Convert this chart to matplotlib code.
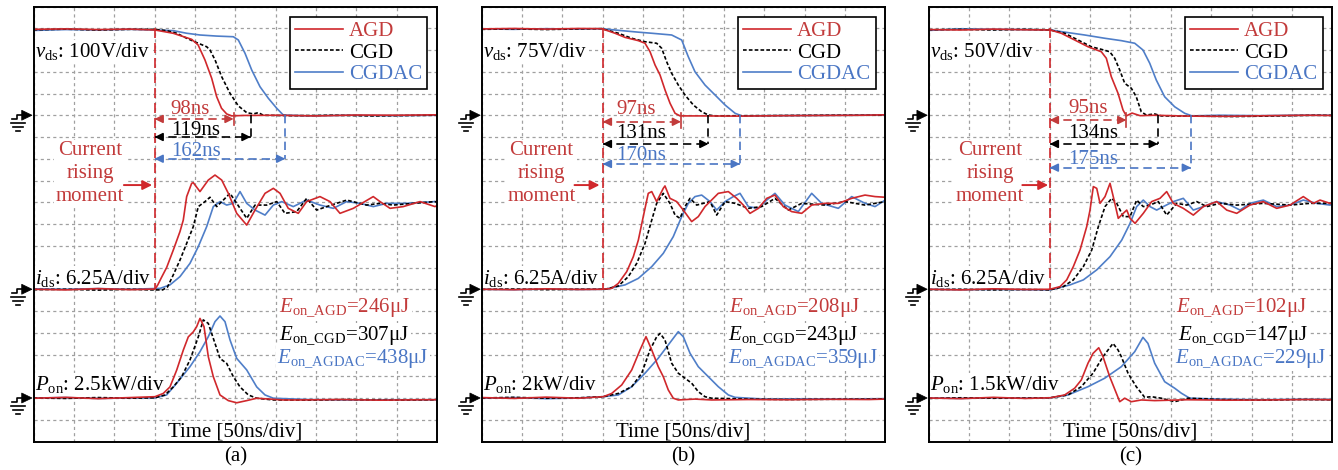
import matplotlib
matplotlib.use('Agg')
import matplotlib.pyplot as plt
from matplotlib.lines import Line2D
from matplotlib.patches import Polygon
from matplotlib.transforms import IdentityTransform

plt.rcParams['font.family'] = ['Liberation Serif', 'DejaVu Serif']
plt.rcParams['mathtext.fontset'] = 'custom'
plt.rcParams['mathtext.rm'] = 'Liberation Serif'
plt.rcParams['mathtext.it'] = 'Liberation Serif:italic'
plt.rcParams['mathtext.bf'] = 'Liberation Serif:bold'
plt.rcParams['font.size'] = 15

# ---------------- data (time in ns, value in screen divisions) ----------------
SERIES = ['AGD', 'CGD', 'CGDAC']
PANEL_LABELS = ['(a)', '(b)', '(c)']
VDS_SCALE = ['100V/div', '75V/div', '50V/div']
IDS_SCALE = ['6.25A/div', '6.25A/div', '6.25A/div']
PON_SCALE = ['2.5kW/div', '2kW/div', '1.5kW/div']
T_RISE = 150
DELAY_AGD = [98, 97, 95]
DELAY_CGD = [119, 131, 134]
DELAY_CGDAC = [162, 170, 175]
EON_AGD = [246, 208, 102]
EON_CGD = [307, 243, 147]
EON_AGDAC = [438, 359, 229]
VDS_ZERO, IDS_ZERO, PON_ZERO = 15, 7, 2
VDS_HIGH = 19

# panel (a)
a_vds_agd_t = [0, 40, 80, 120, 150.5, 173, 196, 204, 212.5, 220.8, 227, 233, 239.4, 245.6, 260, 300, 350, 400, 450, 500]
a_vds_agd_v = [18.95, 18.97, 18.94, 18.96, 18.92, 18.77, 18.49, 18.23, 17.54, 16.70, 15.85, 15.32, 15.06, 14.97, 14.99, 15.0, 14.97, 15.01, 15.0, 15.02]
a_vds_cgd_t = [0, 40, 80, 120, 150.5, 165, 177.4, 189.8, 202.2, 214.6, 218.7, 225, 233.2, 243.5, 253.8, 264.2, 272.4, 278.6, 284.8, 320, 370, 420, 470, 500]
a_vds_cgd_v = [18.93, 18.96, 18.92, 18.95, 18.95, 18.89, 18.77, 18.54, 18.34, 18.15, 18.0, 17.54, 16.77, 16.01, 15.43, 15.12, 15.06, 15.12, 15.0, 14.98, 15.0, 14.97, 14.99, 15.0]
a_vds_cgdac_t = [0, 40, 80, 120, 150.5, 173.2, 189.8, 206.3, 227, 247.6, 253.8, 262.1, 270.4, 280.7, 291, 301.4, 309.5, 340, 390, 440, 500]
a_vds_cgdac_v = [18.9, 18.94, 18.92, 18.95, 18.92, 18.89, 18.77, 18.69, 18.64, 18.61, 18.46, 17.85, 17.08, 16.31, 15.78, 15.32, 15.01, 14.97, 15.0, 14.98, 15.0]

a_ids_agd_t = [0, 40, 80, 120, 150.6, 154, 158, 165, 173.2, 181.5, 185.6, 189.8, 196, 198, 206.3, 216.6, 224.9, 233.2, 241.4, 251.8, 264.2, 274.5, 286.9, 297.2, 305.5, 315.7, 328.1, 338.5, 355, 367.4, 379.8, 396.3, 421, 429.4, 441.8, 458.2, 479, 497.5, 500]
a_ids_agd_v = [7.0, 6.97, 7.03, 6.98, 7.01, 7.2, 7.5, 8.0, 8.80, 9.65, 10.18, 11.26, 11.87, 11.90, 11.49, 12.02, 12.25, 12.02, 11.41, 10.49, 9.95, 10.64, 11.41, 11.64, 11.41, 10.72, 10.49, 11.03, 11.26, 11.03, 10.49, 10.72, 11.26, 11.03, 10.72, 10.80, 11.03, 10.80, 10.85]
a_ids_cgd_t = [0, 40, 80, 120, 144.4, 160, 166, 173.2, 181.5, 189.8, 198, 204.2, 212.5, 218.7, 227, 235.2, 243.5, 251.8, 264.2, 274.5, 289, 301.4, 311.6, 326.1, 338.5, 350.9, 363.3, 388.1, 412.9, 429.4, 445.8, 470.6, 497.5, 500]
a_ids_cgd_v = [6.98, 7.0, 6.96, 7.0, 6.97, 6.97, 7.1, 7.66, 8.34, 9.11, 9.88, 10.80, 11.03, 11.23, 10.80, 11.10, 11.41, 10.95, 10.26, 10.87, 10.87, 11.03, 10.49, 10.57, 11.18, 10.64, 10.80, 11.10, 10.87, 10.95, 10.87, 10.95, 11.03, 11.0]
a_ids_cgdac_t = [0, 40, 80, 120, 156.8, 169.1, 181.5, 193.9, 204.2, 214.6, 222.8, 231.1, 239.4, 247.6, 255.9, 264.2, 274.5, 286.9, 297.2, 307.6, 321.9, 338.5, 355, 371.5, 388.1, 404.6, 421.1, 437.7, 462.5, 497.5, 500]
a_ids_cgdac_v = [7.02, 7.0, 7.03, 7.0, 7.04, 7.20, 7.58, 8.19, 8.96, 9.88, 10.80, 11.03, 10.87, 10.95, 11.49, 10.95, 10.64, 10.41, 10.87, 11.03, 10.80, 11.10, 10.87, 10.72, 11.03, 10.95, 10.80, 10.95, 10.95, 11.03, 11.0]

a_pon_agd_t = [0, 40, 80, 120, 150.5, 160.8, 169.1, 177.4, 185.6, 191.8, 198, 202.2, 206.3, 211.3, 216.6, 222.8, 231.1, 241.4, 251.8, 264.2, 276.6, 309.5, 330.2, 380, 430, 480, 500]
a_pon_agd_v = [1.99, 2.03, 1.97, 2.02, 2.06, 2.21, 2.51, 3.28, 4.20, 4.81, 5.04, 5.28, 5.66, 5.28, 3.90, 2.98, 2.14, 1.88, 1.78, 1.88, 1.99, 1.91, 1.91, 1.93, 1.90, 1.92, 1.92]
a_pon_cgd_t = [0, 40, 80, 120, 150.5, 163, 173.2, 183.6, 193.9, 204.2, 210.4, 216.6, 224.9, 231.1, 239.4, 247.6, 255.9, 266.2, 276.6, 297.2, 340, 390, 440, 500]
a_pon_cgd_v = [2.0, 1.98, 2.02, 1.99, 2.01, 2.14, 2.51, 2.98, 3.75, 4.81, 5.59, 5.43, 4.51, 3.82, 3.59, 2.98, 2.51, 2.14, 1.99, 1.91, 1.90, 1.93, 1.90, 1.92]
a_pon_cgdac_t = [0, 40, 80, 120, 150.5, 165, 177.4, 193.9, 206.3, 216.6, 224.9, 231.1, 237.3, 243.5, 251.8, 264.2, 276.6, 286.9, 297.2, 340, 390, 440, 500]
a_pon_cgdac_v = [2.0, 2.02, 1.98, 2.0, 2.01, 2.14, 2.68, 3.44, 4.13, 4.82, 5.51, 5.77, 5.51, 4.67, 3.82, 3.29, 2.51, 2.14, 1.99, 1.93, 1.91, 1.92, 1.92]

# panel (b)
b_vds_agd_t = [0, 40, 80, 120, 148.7, 165.2, 177.6, 194.1, 202.4, 208.6, 214.8, 221, 227.2, 233.4, 239.6, 245.8, 270, 320, 370, 420, 470, 500]
b_vds_agd_v = [18.97, 18.99, 18.96, 18.99, 18.98, 18.77, 18.58, 18.43, 18.31, 17.92, 17.31, 16.85, 16.16, 15.55, 15.09, 14.97, 14.97, 14.96, 14.98, 14.99, 15.0, 15.02]
b_vds_cgd_t = [0, 40, 80, 120, 148.7, 169.3, 185.8, 202.4, 216.8, 223, 229.2, 235.4, 243.6, 251.9, 262.3, 272.6, 280.9, 289.2, 330, 380, 430, 500]
b_vds_cgd_v = [18.95, 18.97, 18.94, 18.97, 18.98, 18.77, 18.54, 18.38, 18.31, 18.08, 17.46, 16.93, 16.39, 15.93, 15.47, 15.16, 15.01, 14.97, 14.98, 14.99, 15.0, 15.0]
b_vds_cgdac_t = [0, 40, 80, 120, 148.7, 173.5, 194.1, 210.7, 235.4, 247.8, 256, 264.3, 276.7, 289.2, 301.6, 314, 322.3, 360, 410, 460, 500]
b_vds_cgdac_v = [18.97, 18.95, 18.98, 18.96, 18.98, 18.89, 18.82, 18.77, 18.69, 18.46, 17.69, 17.0, 16.39, 15.93, 15.47, 15.09, 14.97, 14.98, 14.99, 15.0, 15.02]

b_ids_agd_t = [0, 40, 80, 120, 148.7, 161.1, 169.3, 179.7, 187.9, 194.1, 200.2, 206.4, 210.7, 216.8, 225, 227.1, 233.3, 241.6, 249.8, 260.2, 268.4, 276.7, 293.2, 305.6, 316, 324.2, 332.5, 342.8, 353.2, 363.4, 373.7, 384.1, 396.5, 408.9, 425.4, 441.9, 458.5, 475, 487.4, 500]
b_ids_agd_v = [7.0, 6.98, 7.02, 6.99, 7.0, 7.04, 7.27, 7.81, 8.50, 9.26, 10.34, 11.41, 11.49, 11.03, 11.64, 11.75, 11.18, 11.03, 10.64, 10.11, 10.34, 10.80, 11.41, 11.49, 11.18, 10.87, 10.49, 10.72, 11.18, 11.33, 10.80, 10.57, 10.49, 10.87, 10.95, 10.95, 11.18, 11.33, 11.26, 11.23]
b_ids_cgd_t = [0, 40, 80, 120, 152.8, 169.3, 181.7, 192.1, 202.4, 210.7, 216.8, 225, 233.3, 239.6, 245.7, 251.9, 258.1, 266.4, 274.6, 282.9, 291.2, 301.5, 313.9, 330.4, 346.9, 363.4, 379.9, 396.5, 425.4, 450.2, 475, 500]
b_ids_cgd_v = [6.99, 7.01, 6.98, 7.0, 7.0, 7.15, 7.58, 8.19, 9.11, 10.18, 10.95, 11.41, 10.95, 10.41, 10.26, 10.80, 11.18, 10.87, 10.95, 11.03, 10.41, 11.03, 10.95, 10.72, 10.80, 11.18, 10.64, 10.95, 10.87, 11.03, 10.87, 11.03]
b_ids_cgdac_t = [0, 40, 80, 120, 152.8, 177.6, 194.1, 210.7, 225, 237.4, 247.8, 256, 264.3, 272.6, 282.9, 291.2, 301.5, 311.8, 320.1, 330.4, 342.8, 353.2, 363.4, 375.8, 392.3, 408.9, 421.3, 441.9, 458.5, 475, 487.4, 500]
b_ids_cgdac_v = [7.0, 6.98, 7.01, 6.99, 7.0, 7.20, 7.50, 8.04, 8.65, 9.42, 10.34, 10.95, 11.26, 11.33, 11.03, 10.64, 11.03, 11.26, 11.41, 10.80, 10.72, 11.10, 11.41, 10.87, 10.57, 11.41, 10.95, 10.72, 11.26, 10.95, 10.80, 11.10]

b_pon_agd_t = [0, 40, 80, 120, 150.7, 161.1, 173.5, 185.9, 196.2, 203.6, 210.7, 218.8, 225, 231.2, 237.4, 243.6, 264.3, 285, 330, 380, 430, 480, 500]
b_pon_agd_v = [2.02, 1.98, 2.04, 1.99, 2.06, 2.21, 2.60, 3.29, 4.21, 4.82, 4.21, 3.44, 2.98, 2.37, 1.99, 1.91, 1.95, 1.91, 1.93, 1.92, 1.94, 1.93, 1.95]
b_pon_cgd_t = [0, 40, 80, 120, 150.7, 169.3, 185.9, 198.3, 208.6, 216.9, 221, 227.1, 235.4, 243.6, 251.9, 260.2, 268.4, 276.7, 285, 330, 380, 430, 480, 500]
b_pon_cgd_v = [2.0, 2.03, 1.99, 2.01, 2.06, 2.21, 2.52, 3.14, 4.21, 4.82, 4.97, 4.67, 3.60, 3.14, 2.91, 2.68, 2.29, 2.06, 1.99, 1.95, 1.93, 1.94, 1.95, 1.96]
b_pon_cgdac_t = [0, 40, 80, 120, 150.7, 169.3, 185.9, 202.4, 218.8, 231.2, 243.6, 249.8, 258.1, 268.4, 280.8, 293.2, 305.6, 313.9, 350, 400, 450, 500]
b_pon_cgdac_v = [1.99, 2.02, 1.97, 2.0, 2.06, 2.14, 2.52, 3.14, 3.83, 4.44, 5.05, 4.82, 4.06, 3.44, 2.98, 2.52, 2.14, 2.03, 1.95, 1.96, 1.95, 1.97]

# panel (c)
c_vds_agd_t = [0, 40, 80, 120, 150.7, 164.3, 180.9, 197.4, 213.9, 220.1, 226.3, 234.6, 240.8, 244.9, 252, 262, 280, 320, 370, 420, 470, 500]
c_vds_agd_v = [18.94, 18.92, 18.96, 18.93, 18.92, 18.77, 18.46, 18.15, 17.92, 17.62, 16.77, 16.01, 15.24, 14.97, 15.1, 14.98, 15.0, 14.96, 14.95, 14.98, 15.0, 14.99]
c_vds_cgd_t = [0, 40, 80, 120, 150.7, 168.5, 185, 201.5, 213.9, 224.3, 230.5, 236.7, 242.9, 251.1, 257.2, 263.4, 269.6, 280, 288.2, 330, 380, 430, 480, 500]
c_vds_cgd_v = [18.93, 18.95, 18.92, 18.95, 18.92, 18.77, 18.46, 18.15, 18.03, 17.92, 17.62, 17.08, 16.47, 16.24, 15.85, 15.16, 15.01, 15.06, 14.97, 14.96, 14.94, 14.97, 15.0, 14.99]
c_vds_cgdac_t = [0, 40, 80, 120, 150.7, 172.6, 193.3, 218.1, 238.7, 255.3, 265.5, 273.9, 282, 292.4, 304.8, 317.2, 326.3, 360, 410, 460, 500]
c_vds_cgdac_v = [18.9, 18.97, 18.95, 18.94, 18.92, 18.80, 18.69, 18.54, 18.43, 18.31, 18.0, 17.39, 16.62, 15.85, 15.39, 15.09, 14.97, 15.0, 14.98, 15.0, 15.0]

c_ids_agd_t = [0, 40, 80, 120, 150.3, 162.7, 171, 179.2, 187.5, 195.8, 199.9, 204, 208.2, 212.3, 218.5, 224.7, 228.7, 234.9, 241.1, 245.4, 249.5, 255.7, 265.9, 276.3, 286.6, 294.9, 303.1, 315.5, 327.9, 340.3, 356.9, 369.3, 381.7, 398.1, 414.6, 431.2, 447.7, 464.2, 476.6, 484.9, 497.3, 500]
c_ids_agd_v = [7.0, 6.97, 7.02, 6.99, 7.0, 7.12, 7.43, 8.04, 8.80, 9.88, 10.64, 11.72, 11.64, 10.95, 11.26, 11.87, 11.26, 10.26, 10.49, 10.64, 10.26, 10.03, 10.49, 11.03, 11.18, 11.49, 10.95, 10.72, 10.41, 10.80, 11.03, 10.64, 10.49, 10.87, 11.03, 10.72, 10.87, 11.26, 10.95, 11.10, 10.95, 10.95]
c_ids_cgd_t = [0, 40, 80, 120, 150.3, 166.8, 179.2, 191.6, 202, 210.2, 218.5, 226.8, 233, 241.2, 249.5, 257.7, 265.9, 274.2, 284.5, 294.9, 307.3, 319.7, 332.1, 344.5, 361, 381.7, 414.6, 447.7, 472.5, 500]
c_ids_cgd_v = [6.98, 7.0, 6.97, 6.99, 6.97, 7.12, 7.43, 8.04, 8.80, 9.88, 10.80, 11.18, 10.95, 10.34, 10.34, 11.10, 10.80, 10.87, 11.03, 10.41, 10.95, 10.87, 11.03, 10.80, 10.95, 10.87, 10.95, 10.87, 10.95, 10.95]
c_ids_cgdac_t = [0, 40, 80, 120, 150.3, 175.1, 191.6, 208.2, 224.7, 239.2, 249.5, 257.7, 265.9, 274.2, 282.5, 290.7, 303.1, 315.5, 327.9, 340.3, 356.9, 373.4, 385.8, 398.1, 414.6, 431.2, 447.7, 464.2, 480.8, 497.3, 500]
c_ids_cgdac_v = [7.0, 6.98, 6.99, 6.98, 6.97, 7.20, 7.43, 7.89, 8.50, 9.26, 10.03, 10.80, 11.10, 10.80, 10.64, 10.80, 11.03, 11.18, 10.64, 10.80, 11.03, 10.87, 10.64, 10.95, 11.10, 10.80, 10.87, 11.10, 10.95, 10.87, 10.9]

c_pon_agd_t = [0, 40, 80, 120, 150.7, 168.5, 180.9, 189.1, 197.4, 203.6, 210.7, 216, 224.3, 232.5, 236.7, 242.9, 251.1, 263.5, 280, 320, 370, 420, 470, 500]
c_pon_agd_v = [2.0, 1.97, 2.03, 1.98, 2.01, 2.14, 2.45, 2.83, 3.60, 4.05, 4.31, 3.90, 2.98, 2.22, 1.83, 1.99, 1.83, 1.91, 1.88, 1.92, 1.90, 1.91, 1.93, 1.92]
c_pon_cgd_t = [0, 40, 80, 120, 150.7, 172.6, 189.1, 203.6, 216, 228.4, 234.6, 238.7, 247, 257.2, 267.7, 275.9, 288.2, 304.8, 321.3, 360, 410, 460, 500]
c_pon_cgd_v = [1.98, 2.01, 1.99, 2.0, 2.01, 2.14, 2.52, 3.14, 3.90, 4.51, 4.21, 3.90, 3.14, 2.52, 2.03, 2.06, 1.99, 1.83, 1.99, 1.93, 1.90, 1.93, 1.92]
c_pon_cgdac_t = [0, 40, 80, 120, 150.7, 172.6, 197.4, 218.1, 238.7, 255.3, 265.5, 271.7, 280, 292.4, 304.8, 313.1, 323.5, 360, 410, 460, 500]
c_pon_cgdac_v = [2.0, 1.98, 2.01, 1.99, 2.01, 2.14, 2.52, 2.91, 3.44, 4.13, 4.79, 4.51, 3.60, 2.75, 2.45, 2.22, 1.99, 1.95, 1.92, 1.94, 1.93]

# ---------------- assemble ----------------
TRACES = [
    [[(a_vds_agd_t, a_vds_agd_v), (a_vds_cgd_t, a_vds_cgd_v), (a_vds_cgdac_t, a_vds_cgdac_v)],
     [(a_ids_agd_t, a_ids_agd_v), (a_ids_cgd_t, a_ids_cgd_v), (a_ids_cgdac_t, a_ids_cgdac_v)],
     [(a_pon_agd_t, a_pon_agd_v), (a_pon_cgd_t, a_pon_cgd_v), (a_pon_cgdac_t, a_pon_cgdac_v)]],
    [[(b_vds_agd_t, b_vds_agd_v), (b_vds_cgd_t, b_vds_cgd_v), (b_vds_cgdac_t, b_vds_cgdac_v)],
     [(b_ids_agd_t, b_ids_agd_v), (b_ids_cgd_t, b_ids_cgd_v), (b_ids_cgdac_t, b_ids_cgdac_v)],
     [(b_pon_agd_t, b_pon_agd_v), (b_pon_cgd_t, b_pon_cgd_v), (b_pon_cgdac_t, b_pon_cgdac_v)]],
    [[(c_vds_agd_t, c_vds_agd_v), (c_vds_cgd_t, c_vds_cgd_v), (c_vds_cgdac_t, c_vds_cgdac_v)],
     [(c_ids_agd_t, c_ids_agd_v), (c_ids_cgd_t, c_ids_cgd_v), (c_ids_cgdac_t, c_ids_cgdac_v)],
     [(c_pon_agd_t, c_pon_agd_v), (c_pon_cgd_t, c_pon_cgd_v), (c_pon_cgdac_t, c_pon_cgdac_v)]],
]

RED = '#D0282C'
RED_TXT = '#C23B3B'
BLUE = '#4F7EC8'
BLUE_TXT = '#4A76C4'
BLACK = '#000000'
LINE_COL = [RED, BLACK, BLUE]
TXT_COL = [RED_TXT, BLACK, BLUE_TXT]
LINE_LS = ['-', (0, (2.2, 1.3)), '-']

# layout constants
W, H = 1338, 470
LEFTS = [33.5, 481.7, 928.7]
ARROW_Y = [(14.83, 14.0, 13.0), (14.7, 13.68, 12.76), (14.78, 13.68, 12.59)]
DELAY_TXT_Y = [(15.28, 14.28, 13.33), (15.27, 14.17, 13.14), (15.32, 14.17, 12.97)]
DELAY_TXT_X = [170, 167, 173]
EON_X = [(304.6, 304.6, 302), (306.4, 305.6, 304.8), (306.8, 309, 304.8)]
EON_Y = (5.95, 4.67, 3.62)
CRM_X = [70, 74, 76]
CRM_ARROW = [(112, 147), (115, 146), (116, 148)]
WHITE_BOX = dict(facecolor='white', edgecolor='none', pad=1.0)

fig = plt.figure(figsize=(W / 100, H / 100), dpi=100)


def ground(ax, y0):
    xp, yp = ax.transData.transform((0, y0))
    P = lambda pts: [(xp + dx, yp + dy) for dx, dy in pts]
    fig.add_artist(Polygon(P([(-1.5, 0), (-11.8, 5), (-11.8, -5)]), closed=True,
                           facecolor='k', edgecolor='k', lw=0.5, transform=IdentityTransform()))
    segs = [[(-11.8, 0), (-16.2, 0), (-16.2, -4), (-21.2, -4)],
            [(-22.5, -8), (-8.5, -8)],
            [(-20.2, -11.8), (-10.8, -11.8)],
            [(-17.6, -15.5), (-13.4, -15.5)]]
    for s in segs:
        xs, ys = zip(*P(s))
        fig.add_artist(Line2D(xs, ys, color='k', lw=1.2, transform=IdentityTransform()))


def dbl_arrow(ax, x0, x1, y, color):
    ax.plot([x0, x1], [y, y], color=color, lw=1.2, ls=(0, (5, 3)), zorder=4)
    for xa, xb in [(x0 + 9, x0), (x1 - 9, x1)]:
        ax.annotate('', xy=(xb, y), xytext=(xa, y),
                    arrowprops=dict(arrowstyle='-|>', color=color, lw=1.2, shrinkA=0, shrinkB=0,
                                    mutation_scale=12), zorder=5)


for i in range(3):
    ax = fig.add_axes([LEFTS[i] / W, 28.5 / H, 403.5 / W, 435 / H])
    ax.set_xlim(0, 500)
    ax.set_ylim(0, 20)
    ax.set_xticks(range(0, 501, 50))
    ax.set_yticks(range(0, 21))
    ax.tick_params(length=0, labelbottom=False, labelleft=False)
    ax.set_axisbelow(True)
    ax.grid(True, color='#A0A0A0', ls=(0, (2.5, 2.5)), lw=0.9)
    for sp in ax.spines.values():
        sp.set_linewidth(1.4)
        sp.set_zorder(6)

    handles = [None, None, None]
    for k in (2, 1, 0):
        for w in range(3):
            t, v = TRACES[i][w][k]
            ln, = ax.plot(t, v, color=LINE_COL[k], ls=LINE_LS[k], lw=1.2, zorder=3 + (2 - k) * 0.1)
            if w == 0:
                handles[k] = ln

    leg = ax.legend(handles, SERIES, loc='upper right', bbox_to_anchor=(0.976, 0.977),
                    frameon=True, fancybox=False, edgecolor='k', framealpha=1,
                    borderpad=0.25, labelspacing=0.08, handlelength=2.3, handletextpad=0.3,
                    borderaxespad=0, fontsize=15)
    leg.get_frame().set_linewidth(1.2)
    leg.set_zorder(7)
    for txt, c in zip(leg.get_texts(), TXT_COL):
        txt.set_color(c)

    # current rising moment
    ax.plot([T_RISE, T_RISE], [VDS_HIGH, IDS_ZERO], color=RED, lw=1.2, ls=(0, (6, 3)), zorder=4)
    ax.text(CRM_X[i], 12.33, 'Current\nrising\nmoment', color=RED_TXT, ha='center', va='center',
            linespacing=1.27, bbox=WHITE_BOX, zorder=1.5)
    ax.annotate('', xy=(CRM_ARROW[i][1], 11.79), xytext=(CRM_ARROW[i][0], 11.79),
                arrowprops=dict(arrowstyle='-|>', color=RED, lw=1.4, shrinkA=0, shrinkB=0,
                                mutation_scale=14), zorder=5)

    # delays
    delays = [DELAY_AGD[i], DELAY_CGD[i], DELAY_CGDAC[i]]
    for k in range(3):
        xe = T_RISE + delays[k]
        ya = ARROW_Y[i][k]
        dbl_arrow(ax, T_RISE, xe, ya, TXT_COL[k] if k != 1 else BLACK)
        if k == 0:
            ax.plot([xe, xe], [VDS_ZERO + 0.1, ya - 0.3], color=RED_TXT, lw=1.2, zorder=4)
        else:
            ax.plot([xe, xe], [VDS_ZERO, ya], color=TXT_COL[k], lw=1.2, ls=(0, (5, 3)), zorder=4)
        ax.text(DELAY_TXT_X[i], DELAY_TXT_Y[i][k], f'{delays[k]}ns', color=TXT_COL[k],
                ha='left', va='center', zorder=5)

    # channel labels
    ax.text(2, 17.67, r'$v_{\mathrm{ds}}$: ' + VDS_SCALE[i], ha='left', va='baseline',
            bbox=WHITE_BOX, zorder=1.5)
    ax.text(2, 7.25, r'$i_{\mathrm{ds}}$: ' + IDS_SCALE[i], ha='left', va='baseline',
            bbox=WHITE_BOX, zorder=1.5)
    ax.text(2, 2.35, r'$P_{\mathrm{on}}$: ' + PON_SCALE[i], ha='left', va='baseline',
            bbox=WHITE_BOX, zorder=1.5)

    # energies
    eons = [EON_AGD[i], EON_CGD[i], EON_AGDAC[i]]
    names = ['AGD', 'CGD', 'AGDAC']
    for k in range(3):
        ax.text(EON_X[i][k], EON_Y[k], r'$E_{\mathrm{on\_' + names[k] + r'}}$=' + f'{eons[k]}μJ',
                color=TXT_COL[k], ha='left', va='baseline', bbox=WHITE_BOX, zorder=1.5)

    ax.text(250, 0.45, 'Time [50ns/div]', ha='center', va='center', bbox=WHITE_BOX, zorder=1.5)
    ax.text(0.5, -0.035, PANEL_LABELS[i], transform=ax.transAxes, ha='center', va='center')

    for y0 in (VDS_ZERO, IDS_ZERO, PON_ZERO):
        ground(ax, y0)

fig.savefig('out.png', dpi=100)
